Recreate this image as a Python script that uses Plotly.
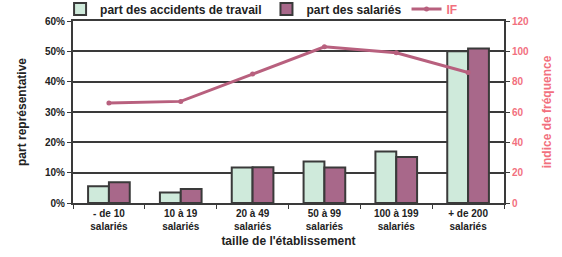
import plotly.graph_objects as go

categories = ["- de 10<br>salariés", "10 à 19<br>salariés", "20 à 49<br>salariés",
              "50 à 99<br>salariés", "100 à 199<br>salariés", "+ de 200<br>salariés"]
accidents = [5.5, 3.5, 11.7, 13.7, 17.0, 50.0]
salaries = [6.8, 4.6, 11.8, 11.7, 15.2, 50.9]
indice_freq = [66, 67, 85, 103, 99, 86]

left_ticks = [0, 10, 20, 30, 40, 50, 60]
left_labels = ["0%", "10%", "20%", "30%", "40%", "50%", "60%"]
right_ticks = [0, 20, 40, 60, 80, 100, 120]

DARK = "#3a3a3a"
PINK = "#f2707e"
MAUVE = "#a8688a"
LINE = "#b8607e"

def b(s):
    return "<b>" + s + "</b>"

fig = go.Figure()
fig.add_bar(x=categories, y=accidents, name=b("part des accidents de travail"),
            marker=dict(color="#cfeadb", line=dict(color=DARK, width=2)))
fig.add_bar(x=categories, y=salaries, name=b("part des salariés"),
            marker=dict(color=MAUVE, line=dict(color=DARK, width=2)))
fig.add_scatter(x=categories, y=indice_freq, name="<b><span style='color:%s'>IF</span></b>" % PINK,
                yaxis="y2",
                mode="lines+markers", line=dict(color=LINE, width=3),
                marker=dict(size=5, color=LINE))

fig.update_layout(
    width=562, height=257,
    margin=dict(l=73, r=58, t=21, b=54, autoexpand=False),
    paper_bgcolor="white", plot_bgcolor="white",
    font=dict(family="Liberation Sans", size=10, color="#222"),
    barmode="group", bargap=0.42, bargroupgap=0.0,
    showlegend=True,
    legend=dict(orientation="h", x=-0.03, y=1.066, xanchor="left", yanchor="middle",
                font=dict(size=12), bgcolor="rgba(0,0,0,0)",
                itemwidth=30, tracegroupgap=0),
    xaxis=dict(showline=True, linecolor=DARK, linewidth=2, mirror=True,
               ticks="outside", tickson="boundaries", ticklen=4, tickcolor=DARK,
               tickvals=categories, ticktext=[b(c.replace("<br>", "</b><br><b>")) for c in categories],
               title=dict(text=b("taille de l'établissement"), standoff=6, font=dict(size=12)),
               tickfont=dict(size=10)),
    yaxis=dict(range=[0, 60], tickvals=left_ticks, ticktext=[b(t) for t in left_labels],
               showgrid=True, gridcolor=DARK, gridwidth=1.5,
               showline=True, linecolor=DARK, linewidth=2,
               ticks="outside", ticklen=4, tickcolor=DARK,
               tickfont=dict(size=10),
               title=dict(text=b("part représentative"), font=dict(size=12), standoff=16),
               zeroline=False),
    yaxis2=dict(range=[0, 120], tickvals=right_ticks, ticktext=[b(str(t)) for t in right_ticks],
                overlaying="y", side="right",
                showgrid=False, showline=True, linecolor=DARK, linewidth=2,
                ticks="outside", ticklen=4, tickcolor=DARK,
                tickfont=dict(color=PINK, size=10),
                title=dict(text=b("indice de fréquence"), font=dict(color=PINK, size=12), standoff=14),
                zeroline=False),
)

fig.write_html("out.html", config={"displayModeBar": False},
               post_script="document.body.style.margin='0';")
